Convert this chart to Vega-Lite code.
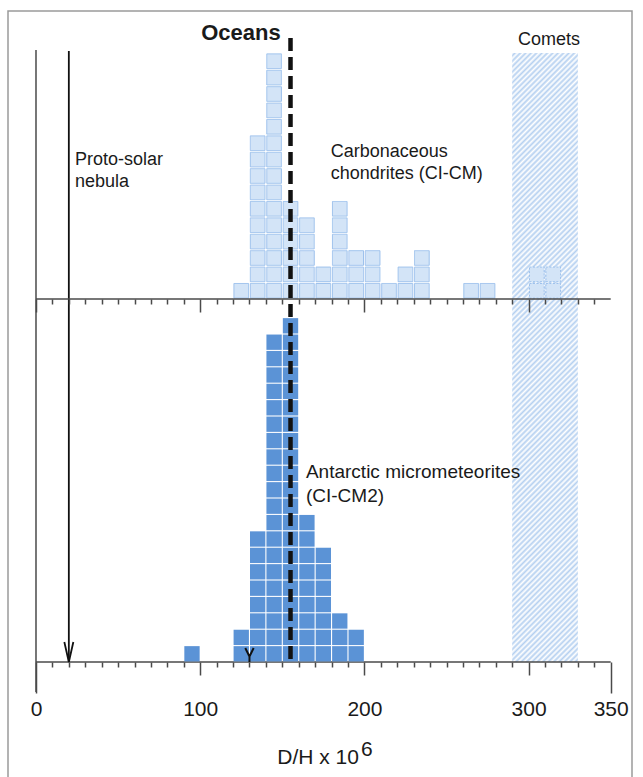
{
  "$schema": "https://vega.github.io/schema/vega-lite/v6.json",
  "width": 624,
  "height": 769,
  "autosize": {"type": "none"},
  "padding": {"left": 8, "top": 11, "right": 11, "bottom": 0},
  "background": "white",
  "config": {
    "view": {"stroke": "#9a9a9a", "strokeWidth": 1.5},
    "font": "Liberation Sans",
    "text": {"font": "Liberation Sans", "color": "#1a1a1a"}
  },
  "datasets": {
    "cc": [
      {"dh":125,"k":1},
      {"dh":135,"k":1},{"dh":135,"k":2},{"dh":135,"k":3},{"dh":135,"k":4},{"dh":135,"k":5},{"dh":135,"k":6},{"dh":135,"k":7},{"dh":135,"k":8},{"dh":135,"k":9},{"dh":135,"k":10},
      {"dh":145,"k":1},{"dh":145,"k":2},{"dh":145,"k":3},{"dh":145,"k":4},{"dh":145,"k":5},{"dh":145,"k":6},{"dh":145,"k":7},{"dh":145,"k":8},{"dh":145,"k":9},{"dh":145,"k":10},{"dh":145,"k":11},{"dh":145,"k":12},{"dh":145,"k":13},{"dh":145,"k":14},{"dh":145,"k":15},
      {"dh":155,"k":1},{"dh":155,"k":2},{"dh":155,"k":3},{"dh":155,"k":4},{"dh":155,"k":5},{"dh":155,"k":6},
      {"dh":165,"k":1},{"dh":165,"k":2},{"dh":165,"k":3},{"dh":165,"k":4},{"dh":165,"k":5},
      {"dh":175,"k":1},{"dh":175,"k":2},
      {"dh":185,"k":1},{"dh":185,"k":2},{"dh":185,"k":3},{"dh":185,"k":4},{"dh":185,"k":5},{"dh":185,"k":6},
      {"dh":195,"k":1},{"dh":195,"k":2},{"dh":195,"k":3},
      {"dh":205,"k":1},{"dh":205,"k":2},{"dh":205,"k":3},
      {"dh":215,"k":1},
      {"dh":225,"k":1},{"dh":225,"k":2},
      {"dh":235,"k":1},{"dh":235,"k":2},{"dh":235,"k":3},
      {"dh":265,"k":1},
      {"dh":275,"k":1},
      {"dh":305,"k":1,"sub":"b"},{"dh":305,"k":2,"sub":"b"},
      {"dh":315,"k":1,"sub":"b"},{"dh":315,"k":2,"sub":"b"}
    ],
    "amm": [
      {"dh":95,"k":1},
      {"dh":125,"k":1},{"dh":125,"k":2},
      {"dh":135,"k":1},{"dh":135,"k":2},{"dh":135,"k":3},{"dh":135,"k":4},{"dh":135,"k":5},{"dh":135,"k":6},{"dh":135,"k":7},{"dh":135,"k":8},
      {"dh":145,"k":1},{"dh":145,"k":2},{"dh":145,"k":3},{"dh":145,"k":4},{"dh":145,"k":5},{"dh":145,"k":6},{"dh":145,"k":7},{"dh":145,"k":8},{"dh":145,"k":9},{"dh":145,"k":10},{"dh":145,"k":11},{"dh":145,"k":12},{"dh":145,"k":13},{"dh":145,"k":14},{"dh":145,"k":15},{"dh":145,"k":16},{"dh":145,"k":17},{"dh":145,"k":18},{"dh":145,"k":19},{"dh":145,"k":20},
      {"dh":155,"k":1},{"dh":155,"k":2},{"dh":155,"k":3},{"dh":155,"k":4},{"dh":155,"k":5},{"dh":155,"k":6},{"dh":155,"k":7},{"dh":155,"k":8},{"dh":155,"k":9},{"dh":155,"k":10},{"dh":155,"k":11},{"dh":155,"k":12},{"dh":155,"k":13},{"dh":155,"k":14},{"dh":155,"k":15},{"dh":155,"k":16},{"dh":155,"k":17},{"dh":155,"k":18},{"dh":155,"k":19},{"dh":155,"k":20},{"dh":155,"k":21},
      {"dh":165,"k":1},{"dh":165,"k":2},{"dh":165,"k":3},{"dh":165,"k":4},{"dh":165,"k":5},{"dh":165,"k":6},{"dh":165,"k":7},{"dh":165,"k":8},{"dh":165,"k":9},
      {"dh":175,"k":1},{"dh":175,"k":2},{"dh":175,"k":3},{"dh":175,"k":4},{"dh":175,"k":5},{"dh":175,"k":6},{"dh":175,"k":7},
      {"dh":185,"k":1},{"dh":185,"k":2},{"dh":185,"k":3},
      {"dh":195,"k":1},{"dh":195,"k":2}
    ]
  },
  "resolve": {"scale": {"x": "independent", "y": "independent"}, "axis": {"x": "independent"}},
  "layer": [
    {
      "layer": [
        {
          "data": {"values": [{}]},
          "mark": {"type": "rect", "fill": {
            "gradient": "linear", "x1": 0, "y1": 0, "x2": 0.11811, "y2": 1.09511,
            "stops": [
              {"offset":0,"color":"#fff"},{"offset":0.004,"color":"#b5d0f0"},{"offset":0.008,"color":"#fff"},{"offset":0.012,"color":"#b5d0f0"},{"offset":0.016,"color":"#fff"},{"offset":0.02,"color":"#b5d0f0"},{"offset":0.024,"color":"#fff"},{"offset":0.028,"color":"#b5d0f0"},{"offset":0.032,"color":"#fff"},{"offset":0.036,"color":"#b5d0f0"},{"offset":0.04,"color":"#fff"},{"offset":0.044,"color":"#b5d0f0"},{"offset":0.048,"color":"#fff"},{"offset":0.052,"color":"#b5d0f0"},{"offset":0.056,"color":"#fff"},{"offset":0.06,"color":"#b5d0f0"},{"offset":0.064,"color":"#fff"},{"offset":0.068,"color":"#b5d0f0"},{"offset":0.072,"color":"#fff"},{"offset":0.076,"color":"#b5d0f0"},{"offset":0.08,"color":"#fff"},{"offset":0.084,"color":"#b5d0f0"},{"offset":0.088,"color":"#fff"},{"offset":0.092,"color":"#b5d0f0"},{"offset":0.096,"color":"#fff"},
              {"offset":0.1,"color":"#b5d0f0"},{"offset":0.104,"color":"#fff"},{"offset":0.108,"color":"#b5d0f0"},{"offset":0.112,"color":"#fff"},{"offset":0.116,"color":"#b5d0f0"},{"offset":0.12,"color":"#fff"},{"offset":0.124,"color":"#b5d0f0"},{"offset":0.128,"color":"#fff"},{"offset":0.132,"color":"#b5d0f0"},{"offset":0.136,"color":"#fff"},{"offset":0.14,"color":"#b5d0f0"},{"offset":0.144,"color":"#fff"},{"offset":0.148,"color":"#b5d0f0"},{"offset":0.152,"color":"#fff"},{"offset":0.156,"color":"#b5d0f0"},{"offset":0.16,"color":"#fff"},{"offset":0.164,"color":"#b5d0f0"},{"offset":0.168,"color":"#fff"},{"offset":0.172,"color":"#b5d0f0"},{"offset":0.176,"color":"#fff"},{"offset":0.18,"color":"#b5d0f0"},{"offset":0.184,"color":"#fff"},{"offset":0.188,"color":"#b5d0f0"},{"offset":0.192,"color":"#fff"},{"offset":0.196,"color":"#b5d0f0"},
              {"offset":0.2,"color":"#fff"},{"offset":0.204,"color":"#b5d0f0"},{"offset":0.208,"color":"#fff"},{"offset":0.212,"color":"#b5d0f0"},{"offset":0.216,"color":"#fff"},{"offset":0.22,"color":"#b5d0f0"},{"offset":0.224,"color":"#fff"},{"offset":0.228,"color":"#b5d0f0"},{"offset":0.232,"color":"#fff"},{"offset":0.236,"color":"#b5d0f0"},{"offset":0.24,"color":"#fff"},{"offset":0.244,"color":"#b5d0f0"},{"offset":0.248,"color":"#fff"},{"offset":0.252,"color":"#b5d0f0"},{"offset":0.256,"color":"#fff"},{"offset":0.26,"color":"#b5d0f0"},{"offset":0.264,"color":"#fff"},{"offset":0.268,"color":"#b5d0f0"},{"offset":0.272,"color":"#fff"},{"offset":0.276,"color":"#b5d0f0"},{"offset":0.28,"color":"#fff"},{"offset":0.284,"color":"#b5d0f0"},{"offset":0.288,"color":"#fff"},{"offset":0.292,"color":"#b5d0f0"},{"offset":0.296,"color":"#fff"},
              {"offset":0.3,"color":"#b5d0f0"},{"offset":0.304,"color":"#fff"},{"offset":0.308,"color":"#b5d0f0"},{"offset":0.312,"color":"#fff"},{"offset":0.316,"color":"#b5d0f0"},{"offset":0.32,"color":"#fff"},{"offset":0.324,"color":"#b5d0f0"},{"offset":0.328,"color":"#fff"},{"offset":0.332,"color":"#b5d0f0"},{"offset":0.336,"color":"#fff"},{"offset":0.34,"color":"#b5d0f0"},{"offset":0.344,"color":"#fff"},{"offset":0.348,"color":"#b5d0f0"},{"offset":0.352,"color":"#fff"},{"offset":0.356,"color":"#b5d0f0"},{"offset":0.36,"color":"#fff"},{"offset":0.364,"color":"#b5d0f0"},{"offset":0.368,"color":"#fff"},{"offset":0.372,"color":"#b5d0f0"},{"offset":0.376,"color":"#fff"},{"offset":0.38,"color":"#b5d0f0"},{"offset":0.384,"color":"#fff"},{"offset":0.388,"color":"#b5d0f0"},{"offset":0.392,"color":"#fff"},{"offset":0.396,"color":"#b5d0f0"},
              {"offset":0.4,"color":"#fff"},{"offset":0.404,"color":"#b5d0f0"},{"offset":0.408,"color":"#fff"},{"offset":0.412,"color":"#b5d0f0"},{"offset":0.416,"color":"#fff"},{"offset":0.42,"color":"#b5d0f0"},{"offset":0.424,"color":"#fff"},{"offset":0.428,"color":"#b5d0f0"},{"offset":0.432,"color":"#fff"},{"offset":0.436,"color":"#b5d0f0"},{"offset":0.44,"color":"#fff"},{"offset":0.444,"color":"#b5d0f0"},{"offset":0.448,"color":"#fff"},{"offset":0.452,"color":"#b5d0f0"},{"offset":0.456,"color":"#fff"},{"offset":0.46,"color":"#b5d0f0"},{"offset":0.464,"color":"#fff"},{"offset":0.468,"color":"#b5d0f0"},{"offset":0.472,"color":"#fff"},{"offset":0.476,"color":"#b5d0f0"},{"offset":0.48,"color":"#fff"},{"offset":0.484,"color":"#b5d0f0"},{"offset":0.488,"color":"#fff"},{"offset":0.492,"color":"#b5d0f0"},{"offset":0.496,"color":"#fff"},
              {"offset":0.5,"color":"#b5d0f0"},{"offset":0.504,"color":"#fff"},{"offset":0.508,"color":"#b5d0f0"},{"offset":0.512,"color":"#fff"},{"offset":0.516,"color":"#b5d0f0"},{"offset":0.52,"color":"#fff"},{"offset":0.524,"color":"#b5d0f0"},{"offset":0.528,"color":"#fff"},{"offset":0.532,"color":"#b5d0f0"},{"offset":0.536,"color":"#fff"},{"offset":0.54,"color":"#b5d0f0"},{"offset":0.544,"color":"#fff"},{"offset":0.548,"color":"#b5d0f0"},{"offset":0.552,"color":"#fff"},{"offset":0.556,"color":"#b5d0f0"},{"offset":0.56,"color":"#fff"},{"offset":0.564,"color":"#b5d0f0"},{"offset":0.568,"color":"#fff"},{"offset":0.572,"color":"#b5d0f0"},{"offset":0.576,"color":"#fff"},{"offset":0.58,"color":"#b5d0f0"},{"offset":0.584,"color":"#fff"},{"offset":0.588,"color":"#b5d0f0"},{"offset":0.592,"color":"#fff"},{"offset":0.596,"color":"#b5d0f0"},
              {"offset":0.6,"color":"#fff"},{"offset":0.604,"color":"#b5d0f0"},{"offset":0.608,"color":"#fff"},{"offset":0.612,"color":"#b5d0f0"},{"offset":0.616,"color":"#fff"},{"offset":0.62,"color":"#b5d0f0"},{"offset":0.624,"color":"#fff"},{"offset":0.628,"color":"#b5d0f0"},{"offset":0.632,"color":"#fff"},{"offset":0.636,"color":"#b5d0f0"},{"offset":0.64,"color":"#fff"},{"offset":0.644,"color":"#b5d0f0"},{"offset":0.648,"color":"#fff"},{"offset":0.652,"color":"#b5d0f0"},{"offset":0.656,"color":"#fff"},{"offset":0.66,"color":"#b5d0f0"},{"offset":0.664,"color":"#fff"},{"offset":0.668,"color":"#b5d0f0"},{"offset":0.672,"color":"#fff"},{"offset":0.676,"color":"#b5d0f0"},{"offset":0.68,"color":"#fff"},{"offset":0.684,"color":"#b5d0f0"},{"offset":0.688,"color":"#fff"},{"offset":0.692,"color":"#b5d0f0"},{"offset":0.696,"color":"#fff"},
              {"offset":0.7,"color":"#b5d0f0"},{"offset":0.704,"color":"#fff"},{"offset":0.708,"color":"#b5d0f0"},{"offset":0.712,"color":"#fff"},{"offset":0.716,"color":"#b5d0f0"},{"offset":0.72,"color":"#fff"},{"offset":0.724,"color":"#b5d0f0"},{"offset":0.728,"color":"#fff"},{"offset":0.732,"color":"#b5d0f0"},{"offset":0.736,"color":"#fff"},{"offset":0.74,"color":"#b5d0f0"},{"offset":0.744,"color":"#fff"},{"offset":0.748,"color":"#b5d0f0"},{"offset":0.752,"color":"#fff"},{"offset":0.756,"color":"#b5d0f0"},{"offset":0.76,"color":"#fff"},{"offset":0.764,"color":"#b5d0f0"},{"offset":0.768,"color":"#fff"},{"offset":0.772,"color":"#b5d0f0"},{"offset":0.776,"color":"#fff"},{"offset":0.78,"color":"#b5d0f0"},{"offset":0.784,"color":"#fff"},{"offset":0.788,"color":"#b5d0f0"},{"offset":0.792,"color":"#fff"},{"offset":0.796,"color":"#b5d0f0"},
              {"offset":0.8,"color":"#fff"},{"offset":0.804,"color":"#b5d0f0"},{"offset":0.808,"color":"#fff"},{"offset":0.812,"color":"#b5d0f0"},{"offset":0.816,"color":"#fff"},{"offset":0.82,"color":"#b5d0f0"},{"offset":0.824,"color":"#fff"},{"offset":0.828,"color":"#b5d0f0"},{"offset":0.832,"color":"#fff"},{"offset":0.836,"color":"#b5d0f0"},{"offset":0.84,"color":"#fff"},{"offset":0.844,"color":"#b5d0f0"},{"offset":0.848,"color":"#fff"},{"offset":0.852,"color":"#b5d0f0"},{"offset":0.856,"color":"#fff"},{"offset":0.86,"color":"#b5d0f0"},{"offset":0.864,"color":"#fff"},{"offset":0.868,"color":"#b5d0f0"},{"offset":0.872,"color":"#fff"},{"offset":0.876,"color":"#b5d0f0"},{"offset":0.88,"color":"#fff"},{"offset":0.884,"color":"#b5d0f0"},{"offset":0.888,"color":"#fff"},{"offset":0.892,"color":"#b5d0f0"},{"offset":0.896,"color":"#fff"},
              {"offset":0.9,"color":"#b5d0f0"},{"offset":0.904,"color":"#fff"},{"offset":0.908,"color":"#b5d0f0"},{"offset":0.912,"color":"#fff"},{"offset":0.916,"color":"#b5d0f0"},{"offset":0.92,"color":"#fff"},{"offset":0.924,"color":"#b5d0f0"},{"offset":0.928,"color":"#fff"},{"offset":0.932,"color":"#b5d0f0"},{"offset":0.936,"color":"#fff"},{"offset":0.94,"color":"#b5d0f0"},{"offset":0.944,"color":"#fff"},{"offset":0.948,"color":"#b5d0f0"},{"offset":0.952,"color":"#fff"},{"offset":0.956,"color":"#b5d0f0"},{"offset":0.96,"color":"#fff"},{"offset":0.964,"color":"#b5d0f0"},{"offset":0.968,"color":"#fff"},{"offset":0.972,"color":"#b5d0f0"},{"offset":0.976,"color":"#fff"},{"offset":0.98,"color":"#b5d0f0"},{"offset":0.984,"color":"#fff"},{"offset":0.988,"color":"#b5d0f0"},{"offset":0.992,"color":"#fff"},{"offset":0.996,"color":"#b5d0f0"},
              {"offset":1,"color":"#fff"}
            ]
          }},
          "encoding": {
            "x": {"datum": 290, "type": "quantitative",
                  "scale": {"domain": [-17.05, 362.97], "nice": false, "zero": false},
                  "axis": {
                    "orient": "bottom", "offset": -118, "zindex": 1, "tickCount": 40,
                    "values": [0,10,20,30,40,50,60,70,80,90,100,110,120,130,140,150,160,170,180,190,200,210,220,230,240,250,260,270,280,290,300,310,320,330,340,350],
                    "domain": false, "grid": false, "title": null,
                    "tickColor": "#4a4a4a", "tickWidth": 1.5,
                    "tickSize": {"condition": [{"test": "datum.value === 0 || datum.value === 350", "value": 31}, {"test": "datum.value % 100 === 0", "value": 13}], "value": 5},
                    "labelExpr": "datum.value % 100 === 0 || datum.value === 350 ? datum.label : ''",
                    "labelPadding": {"condition": [{"test": "datum.value === 0 || datum.value === 350", "value": 5}, {"test": "datum.value % 100 === 0", "value": 23}], "value": 31},
                    "labelFont": "Liberation Sans", "labelFontSize": 21, "labelColor": "#1a1a1a",
                    "labelBaseline": "top", "labelFlush": false, "labelOverlap": false
                  }},
            "x2": {"datum": 330},
            "y": {"datum": 0.5, "type": "quantitative",
                  "scale": {"domain": [-6.695, 40.195], "nice": false, "zero": false}, "axis": null},
            "y2": {"datum": 37.63}
          }
        },
        {
          "data": {"values": [{}]},
          "mark": {"type": "rule", "stroke": "#4a4a4a", "strokeWidth": 1.5},
          "encoding": {
            "x": {"datum": 0, "type": "quantitative", "scale": {"domain": [-17.05, 362.97], "nice": false, "zero": false}},
            "y": {"datum": -1.33, "type": "quantitative", "scale": {"domain": [-6.695, 40.195], "nice": false, "zero": false}, "axis": null},
            "y2": {"datum": 37.82}
          }
        },
        {
          "data": {"values": [{}]},
          "mark": {"type": "rule", "stroke": "#4a4a4a", "strokeWidth": 1.5},
          "encoding": {
            "x": {"datum": 0, "type": "quantitative", "scale": {"domain": [-17.05, 362.97], "nice": false, "zero": false}},
            "x2": {"datum": 350},
            "y": {"datum": 0.5, "type": "quantitative", "scale": {"domain": [-6.695, 40.195], "nice": false, "zero": false}, "axis": null}
          }
        },
        {
          "data": {"values": [{}]},
          "mark": {"type": "rule", "stroke": "#111111", "strokeWidth": 1.8},
          "encoding": {
            "x": {"datum": 20, "type": "quantitative", "scale": {"domain": [-17.05, 362.97], "nice": false, "zero": false}},
            "y": {"datum": 0.5, "type": "quantitative", "scale": {"domain": [-6.695, 40.195], "nice": false, "zero": false}, "axis": null},
            "y2": {"datum": 37.76}
          }
        },
        {
          "data": {"values": [{}]},
          "mark": {"type": "point", "shape": "M-0.45,-1L0,1L0.45,-1", "size": 400, "filled": false, "stroke": "#111111", "strokeWidth": 1.8, "opacity": 1, "yOffset": -10},
          "encoding": {
            "x": {"datum": 20, "type": "quantitative", "scale": {"domain": [-17.05, 362.97], "nice": false, "zero": false}},
            "y": {"datum": 0.5, "type": "quantitative", "scale": {"domain": [-6.695, 40.195], "nice": false, "zero": false}, "axis": null}
          }
        },
        {
          "data": {"name": "amm"},
          "mark": {"type": "point", "shape": "square", "size": 235, "filled": true, "fill": "#5b93d6", "strokeWidth": 0, "opacity": 1},
          "encoding": {
            "x": {"field": "dh", "type": "quantitative", "scale": {"domain": [-17.05, 362.97], "nice": false, "zero": false}},
            "y": {"field": "k", "type": "quantitative", "scale": {"domain": [-6.695, 40.195], "nice": false, "zero": false}, "axis": null}
          }
        },
        {
          "data": {"values": [{}]},
          "mark": {"type": "point", "shape": "M-0.6,-1L0,0.2L0.6,-1M0,0.2L0,1", "size": 196, "filled": false, "stroke": "#111111", "strokeWidth": 2, "opacity": 1, "yOffset": -7},
          "encoding": {
            "x": {"datum": 130, "type": "quantitative", "scale": {"domain": [-17.05, 362.97], "nice": false, "zero": false}},
            "y": {"datum": 0.5, "type": "quantitative", "scale": {"domain": [-6.695, 40.195], "nice": false, "zero": false}, "axis": null}
          }
        },
        {
          "data": {"values": [{}]},
          "mark": {"type": "text", "text": ["Antarctic micrometeorites", "(CI-CM2)"], "align": "left", "baseline": "middle", "fontSize": 19, "lineHeight": 24},
          "encoding": {
            "x": {"datum": 164.4, "type": "quantitative", "scale": {"domain": [-17.05, 362.97], "nice": false, "zero": false}},
            "y": {"datum": 12.09, "type": "quantitative", "scale": {"domain": [-6.695, 40.195], "nice": false, "zero": false}, "axis": null}
          }
        },
        {
          "data": {"values": [{}]},
          "mark": {"type": "text", "text": "D/H x 10", "align": "right", "baseline": "alphabetic", "fontSize": 21},
          "encoding": {
            "x": {"datum": 196.7, "type": "quantitative", "scale": {"domain": [-17.05, 362.97], "nice": false, "zero": false}},
            "y": {"datum": -5.72, "type": "quantitative", "scale": {"domain": [-6.695, 40.195], "nice": false, "zero": false}, "axis": null}
          }
        },
        {
          "data": {"values": [{}]},
          "mark": {"type": "text", "text": "6", "align": "left", "baseline": "alphabetic", "fontSize": 21},
          "encoding": {
            "x": {"datum": 197.9, "type": "quantitative", "scale": {"domain": [-17.05, 362.97], "nice": false, "zero": false}},
            "y": {"datum": -5.23, "type": "quantitative", "scale": {"domain": [-6.695, 40.195], "nice": false, "zero": false}, "axis": null}
          }
        }
      ]
    },
    {
      "layer": [
        {
          "data": {"name": "cc"},
          "mark": {"type": "point", "shape": "square", "size": 215, "filled": true, "fill": "#d3e4f7", "stroke": "#9cc0ec", "strokeWidth": 1, "opacity": 1},
          "encoding": {
            "x": {"field": "dh", "type": "quantitative",
                  "scale": {"domain": [-17.05, 362.97], "nice": false, "zero": false},
                  "axis": {
                    "orient": "bottom", "offset": -481, "zindex": 1, "tickCount": 40,
                    "values": [0,10,20,30,40,50,60,70,80,90,100,110,120,130,140,150,160,170,180,190,200,210,220,230,240,250,260,270,280,290,300,310,320,330,340],
                    "domain": false, "grid": false, "title": null, "labels": false,
                    "tickColor": "#4a4a4a", "tickWidth": 1.5,
                    "tickSize": {"condition": {"test": "datum.value % 100 === 0", "value": 13}, "value": 5}
                  }},
            "y": {"field": "k", "type": "quantitative",
                  "scale": {"domain": [-28.829, 18.061], "nice": false, "zero": false}, "axis": null},
            "strokeDash": {"condition": {"test": "datum.sub === 'b'", "value": [2, 1.5]}, "value": [1, 0]}
          }
        },
        {
          "data": {"values": [{}]},
          "mark": {"type": "rule", "stroke": "#4a4a4a", "strokeWidth": 1.5},
          "encoding": {
            "x": {"datum": 0, "type": "quantitative", "scale": {"domain": [-17.05, 362.97], "nice": false, "zero": false}},
            "x2": {"datum": 350},
            "y": {"datum": 0.5, "type": "quantitative", "scale": {"domain": [-28.829, 18.061], "nice": false, "zero": false}, "axis": null}
          }
        },
        {
          "data": {"values": [{}]},
          "mark": {"type": "rule", "stroke": "#111111", "strokeWidth": 4.5, "strokeDash": [13, 6]},
          "encoding": {
            "x": {"datum": 155, "type": "quantitative", "scale": {"domain": [-17.05, 362.97], "nice": false, "zero": false}},
            "y": {"datum": 16.41, "type": "quantitative", "scale": {"domain": [-28.829, 18.061], "nice": false, "zero": false}, "axis": null},
            "y2": {"datum": -21.63}
          }
        },
        {
          "data": {"values": [{}]},
          "mark": {"type": "text", "text": "Oceans", "align": "center", "baseline": "middle", "fontSize": 22, "fontWeight": "bold"},
          "encoding": {
            "x": {"datum": 124.8, "type": "quantitative", "scale": {"domain": [-17.05, 362.97], "nice": false, "zero": false}},
            "y": {"datum": 16.72, "type": "quantitative", "scale": {"domain": [-28.829, 18.061], "nice": false, "zero": false}, "axis": null}
          }
        },
        {
          "data": {"values": [{}]},
          "mark": {"type": "text", "text": "Comets", "align": "center", "baseline": "middle", "fontSize": 18},
          "encoding": {
            "x": {"datum": 312.4, "type": "quantitative", "scale": {"domain": [-17.05, 362.97], "nice": false, "zero": false}},
            "y": {"datum": 16.29, "type": "quantitative", "scale": {"domain": [-28.829, 18.061], "nice": false, "zero": false}, "axis": null}
          }
        },
        {
          "data": {"values": [{}]},
          "mark": {"type": "text", "text": ["Carbonaceous", "chondrites (CI-CM)"], "align": "left", "baseline": "middle", "fontSize": 18, "lineHeight": 22},
          "encoding": {
            "x": {"datum": 179.5, "type": "quantitative", "scale": {"domain": [-17.05, 362.97], "nice": false, "zero": false}},
            "y": {"datum": 9.46, "type": "quantitative", "scale": {"domain": [-28.829, 18.061], "nice": false, "zero": false}, "axis": null}
          }
        },
        {
          "data": {"values": [{}]},
          "mark": {"type": "text", "text": ["Proto-solar", "nebula"], "align": "left", "baseline": "middle", "fontSize": 18, "lineHeight": 22},
          "encoding": {
            "x": {"datum": 23.75, "type": "quantitative", "scale": {"domain": [-17.05, 362.97], "nice": false, "zero": false}},
            "y": {"datum": 8.98, "type": "quantitative", "scale": {"domain": [-28.829, 18.061], "nice": false, "zero": false}, "axis": null}
          }
        }
      ]
    }
  ]
}
